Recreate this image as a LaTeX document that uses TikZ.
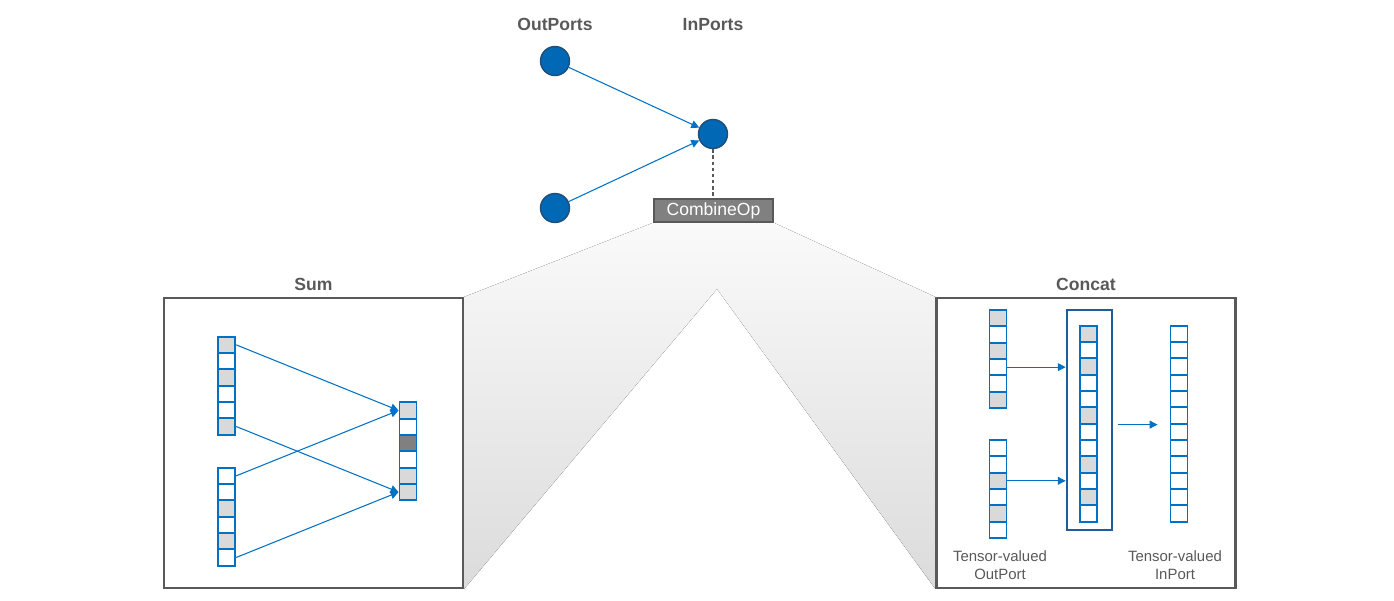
\documentclass[tikz,border=0pt]{standalone}
\usepackage{fontspec}
\setmainfont{Liberation Sans}
\usetikzlibrary{arrows.meta, positioning, backgrounds}
\definecolor{portblue}{HTML}{0068B5}
\definecolor{portedge}{HTML}{1F4E79}
\definecolor{lineblue}{HTML}{0071C5}
\definecolor{stackblue}{HTML}{1F5C99}
\definecolor{cellgray}{HTML}{D9D9D9}
\definecolor{celldark}{HTML}{808080}
\definecolor{textgray}{HTML}{595959}
\tikzstyle{port} = [
    circle, 
    minimum size=0.58cm, 
    inner sep=0pt,
    fill=portblue, 
    draw=portedge, 
    line width=0.8pt
]
\tikzstyle{title} = [
    text=textgray,
    font=\bfseries\fontsize{10}{12}\selectfont
]
\tikzstyle{opbox} = [
    rectangle, 
    minimum width=2.38cm, 
    minimum height=0.46cm,
    inner sep=0pt,
    text centered, 
    draw=textgray, 
    fill=celldark,
    line width=0.8pt,
    text=white,
    font=\fontsize{10}{12}\selectfont
]
\tikzstyle{panel} = [
    rectangle, 
    minimum width=5.98cm, 
    minimum height=5.8cm, 
    draw=textgray,
    line width=1.2pt
]
\tikzstyle{cell} = [
    rectangle, 
    minimum width=0.34cm, 
    minimum height=0.3267cm, 
    inner sep=0pt,
    draw=lineblue,
    line width=1.1pt
]
\tikzstyle{stack} = [
    rectangle, 
    minimum width=0.906cm, 
    minimum height=4.4cm, 
    draw=stackblue,
    line width=1.1pt
]
\tikzstyle{note} = [
    align=center,
    text=textgray,
    font=\fontsize{8.5}{10.2}\selectfont
]
\tikzstyle{arrow} = [lineblue, line width=0.6pt, -{Triangle[length=4.5pt, width=4.5pt]}]

\begin{document}
\begin{tikzpicture}[x=0.02cm, y=-0.02cm]
\useasboundingbox (0,0) rectangle (1394,600);

\node (out1) [port] at (555,61) {};
\node (out2) [port] at (555,208) {};
\node (in) [port] at (713,134) {};
\node (outlbl) [title, above=0.17cm of out1] {OutPorts};
\node (inlbl) [title] at (outlbl -| in) {InPorts};
\node (combine) [opbox] at (713.5,210.5) {CombineOp};

\draw[arrow] (out1) -- (in);
\draw[arrow] (out2) -- (in);
\draw[textgray, line width=0.6pt, dash pattern=on 2pt off 1.5pt] (in.south) -- (in.south |- combine.north);

\node (sum) [panel] at (313.5,443) {};
\node (concat) [panel] at (1086,443) {};
\node (sumlbl) [title, above=0pt of sum] {Sum};
\node (concatlbl) [title, above=0pt of concat] {Concat};

\coordinate (apex) at (717,289);
\begin{scope}[on background layer]
\fill[top color=black!2, bottom color=black!14] (combine.south west) -- (sum.north east) -- (sum.south east) -- (apex) -- (concat.south west) -- (concat.north west) -- (combine.south east) -- cycle;
\end{scope}

\foreach \c [count=\i] in {cellgray,white,cellgray,white,white,cellgray}
    \node (sa\i) [cell, fill=\c] at (226.7,{328.5+16.33*\i}) {};
\foreach \c [count=\i] in {white,white,cellgray,white,cellgray,white}
    \node (sb\i) [cell, fill=\c] at (226.7,{459.5+16.33*\i}) {};
\foreach \c [count=\i] in {cellgray,white,celldark,white,cellgray,cellgray}
    \node (sr\i) [cell, fill=\c] at (408,{394.1+16.33*\i}) {};

\draw[arrow] (sa1.east) -- (sr1.west);
\draw[arrow] (sa6.east) -- (sr6.west);
\draw[arrow] (sb1.east) -- (sr1.west);
\draw[arrow] (sb6.east) -- (sr6.west);

\foreach \c [count=\i] in {cellgray,white,cellgray,white,white,cellgray}
    \node (ca\i) [cell, fill=\c] at (998,{301.8+16.33*\i}) {};
\foreach \c [count=\i] in {white,white,cellgray,white,cellgray,white}
    \node (cb\i) [cell, fill=\c] at (998,{431.8+16.33*\i}) {};
\foreach \c [count=\i] in {cellgray,white,cellgray,white,white,cellgray,white,white,cellgray,white,cellgray,white}
    \node (cm\i) [cell, fill=\c] at (1088.3,{317.5+16.33*\i}) {};
\foreach \i in {1,...,12}
    \node (cr\i) [cell, fill=white] at (1179,{317.5+16.33*\i}) {};
\node (stack) [stack] at (1089.3,420) {};

\draw[arrow] (ca4.east) -- (ca4.east -| stack.west);
\draw[arrow] (cb3.east) -- (cb3.east -| stack.west);
\draw[arrow, shorten <=0.1cm, shorten >=0.24cm] (stack.east |- cr6.south west) -- (cr6.south west);

\node (outnote) [note] at (1000,565) {Tensor-valued\\OutPort};
\node (innote) [note] at (1175,565) {Tensor-valued\\InPort};

\end{tikzpicture}
\end{document}
